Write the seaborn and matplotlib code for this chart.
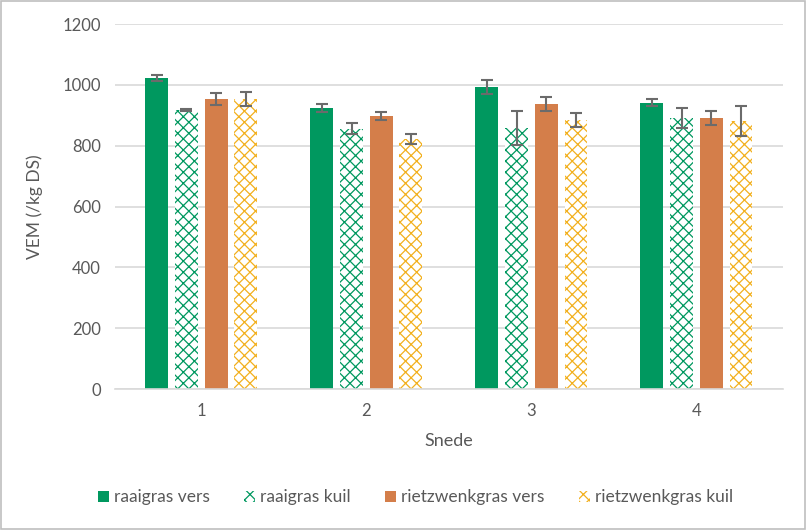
import numpy as np
import pandas as pd
import seaborn as sns
import matplotlib.pyplot as plt
from matplotlib.patches import Patch, Rectangle

# data
snedes = ['1', '2', '3', '4']
series = ['raaigras vers', 'raaigras kuil', 'rietzwenkgras vers', 'rietzwenkgras kuil']
raaigras_vers = [1022, 924, 993, 941]
raaigras_kuil = [917, 855, 858, 891]
rietzwenkgras_vers = [953, 898, 937, 891]
rietzwenkgras_kuil = [953, 822, 884, 881]
err_raaigras_vers = [11, 13, 22, 12]
err_raaigras_kuil = [4, 18, 55, 33]
err_rietzwenkgras_vers = [20, 13, 23, 24]
err_rietzwenkgras_kuil = [22, 18, 23, 48]

colors = ['#00985f', '#00985f', '#d47e4a', '#f2b01e']
hatched = [False, True, False, True]
text_col = '#595959'
grid_col = '#d9d9d9'

values = [raaigras_vers, raaigras_kuil, rietzwenkgras_vers, rietzwenkgras_kuil]
errors = [err_raaigras_vers, err_raaigras_kuil, err_rietzwenkgras_vers, err_rietzwenkgras_kuil]

rows = []
for name, vals in zip(series, values):
    for s, v in zip(snedes, vals):
        rows.append({'Snede': s, 'VEM': v, 'soort': name})
df = pd.DataFrame(rows)

sns.set_theme(style='white')
plt.rcParams['font.family'] = ['Lato', 'DejaVu Sans']
plt.rcParams['hatch.linewidth'] = 0.9

fig = plt.figure(figsize=(8.07, 5.30), dpi=100)
ax = fig.add_axes([0.1425, 0.266, 0.8275, 0.6887])

sns.barplot(data=df, x='Snede', y='VEM', hue='soort', hue_order=series,
            palette=dict(zip(series, colors)), saturation=1, width=0.72, gap=0.23,
            errorbar=None, legend=False, ax=ax, zorder=2)

for cont, col, hat, errs in zip(ax.containers, colors, hatched, errors):
    xs = []
    ys = []
    for bar in cont:
        if hat:
            bar.set_facecolor('white')
            bar.set_edgecolor(col)
            bar.set_hatch('xxx')
        bar.set_linewidth(0)
        xs.append(bar.get_x() + bar.get_width() / 2)
        ys.append(bar.get_height())
    ax.errorbar(xs, ys, yerr=errs, fmt='none', ecolor='#6b6b6b',
                elinewidth=1.5, capsize=4.5, capthick=1.5, zorder=3)

ax.set_ylim(0, 1200)
ax.set_yticks(np.arange(0, 1201, 200))
ax.yaxis.grid(True, color=grid_col, linewidth=1.2, zorder=0)
ax.set_axisbelow(True)
for side in ['top', 'right', 'left']:
    ax.spines[side].set_visible(False)
ax.spines['bottom'].set_color(grid_col)
ax.spines['bottom'].set_linewidth(1.2)
ax.tick_params(axis='both', length=0, labelsize=12, colors=text_col, pad=10)
ax.set_ylabel('VEM (/kg DS)', fontsize=12.5, color=text_col, labelpad=14)
ax.set_xlabel('Snede', fontsize=13, color=text_col, labelpad=10)

handles = []
for name, col, hat in zip(series, colors, hatched):
    if hat:
        handles.append(Patch(facecolor='white', edgecolor=col, hatch='xxx', linewidth=0, label=name))
    else:
        handles.append(Patch(facecolor=col, edgecolor=col, linewidth=0, label=name))
fig.legend(handles=handles, loc='center', bbox_to_anchor=(0.515, 0.062), ncol=4,
           frameon=False, fontsize=12.5, labelcolor=text_col, handlelength=0.6,
           handleheight=0.6, handletextpad=0.3, columnspacing=2.0)

fig.patches.append(Rectangle((0.001, 0.001), 0.997, 0.997, transform=fig.transFigure,
                             fill=False, edgecolor='#bfbfbf', linewidth=1.2))

fig.savefig('out.png', dpi=100)
